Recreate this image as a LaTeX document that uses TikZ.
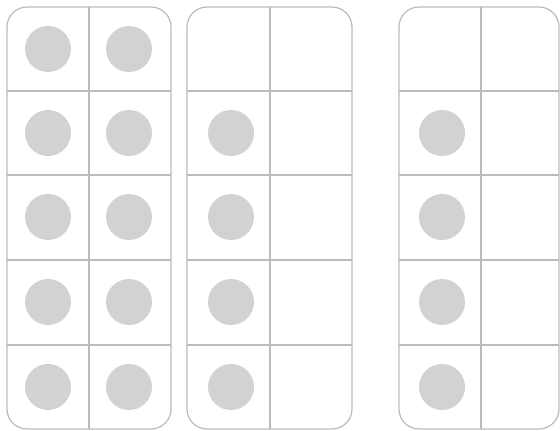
\documentclass[tikz,border=0pt]{standalone}
\usepackage{amsmath}
\usepackage{amssymb}
\usepackage{tikz}

\definecolor{framegray}{HTML}{BBBBBB}
\definecolor{dotgray}{HTML}{D2D2D2}

\begin{document}
\begin{tikzpicture}[x=1pt, y=-1pt,
        frameline/.style={framegray, line width=1.2pt},
        counter/.style={fill=dotgray}]
                \useasboundingbox (0, 0) rectangle (560, 431);

                % the three frames: left edge, middle, right edge
                \foreach \l/\m/\r in {7/89/171, 187/270/352, 399/481/559} {
                    \draw[frameline, rounded corners=20pt] (\l, 7) rectangle (\r, 429);
                    \draw[frameline] (\m, 7) -- (\m, 429);
                    \foreach \y in {91, 175, 260, 345} {
                        \draw[frameline] (\l, \y) -- (\r, \y);
                    }
                }

                % counters
                \foreach \y in {49, 133, 217, 302, 387} {
                    \fill[counter] (48, \y) circle (23);
                    \fill[counter] (129, \y) circle (23);
                }
                \foreach \y in {133, 217, 302, 387} {
                    \fill[counter] (231, \y) circle (23);
                    \fill[counter] (442, \y) circle (23);
                }
            \end{tikzpicture}
\end{document}
